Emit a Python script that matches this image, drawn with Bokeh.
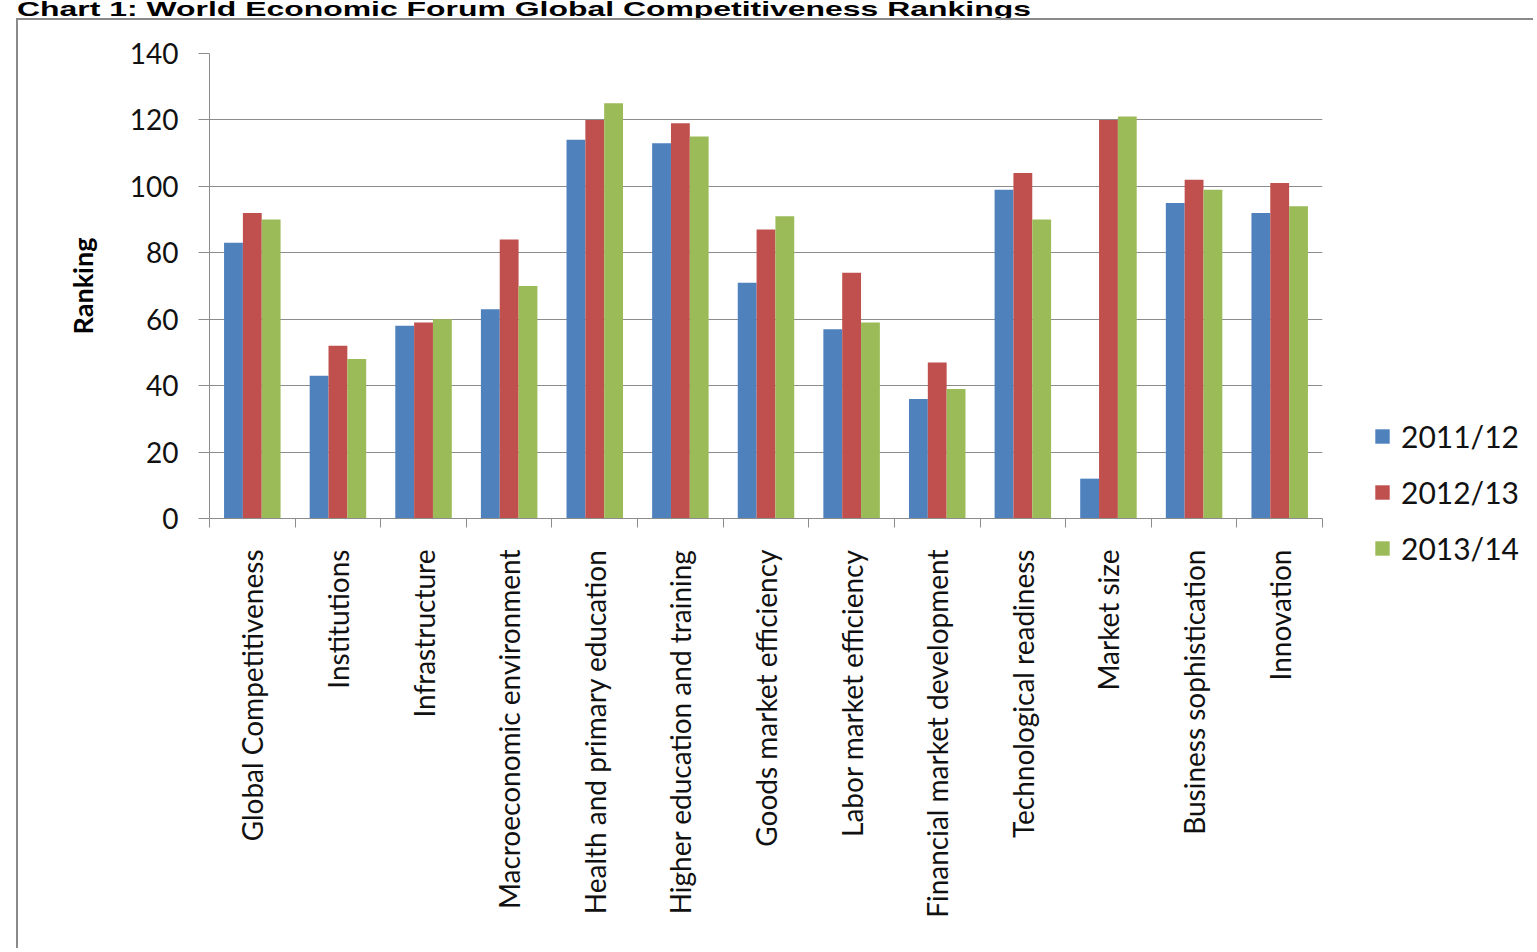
import math
from bokeh.plotting import figure
from bokeh.models import (Range1d, FixedTicker, Legend, LegendItem, Div, ColumnDataSource)
from bokeh.layouts import column, row
from bokeh.transform import dodge
from bokeh.embed import file_html
from bokeh.resources import INLINE

title_text = "Chart 1: World Economic Forum Global Competitiveness Rankings"
categories = [
    "Global Competitiveness", "Institutions", "Infrastructure",
    "Macroeconomic environment", "Health and primary education",
    "Higher education and training", "Goods market efficiency",
    "Labor market efficiency", "Financial market development",
    "Technological readiness", "Market size", "Business sophistication",
    "Innovation",
]
series_names = ["2011/12", "2012/13", "2013/14"]
v2011_12 = [83, 43, 58, 63, 114, 113, 71, 57, 36, 99, 12, 95, 92]
v2012_13 = [92, 52, 59, 84, 120, 119, 87, 74, 47, 104, 120, 102, 101]
v2013_14 = [90, 48, 60, 70, 125, 115, 91, 59, 39, 90, 121, 99, 94]
y_ticks = [0, 20, 40, 60, 80, 100, 120, 140]
colors = ["#4F81BD", "#C0504D", "#9BBB59"]

n = len(categories)
centers = [i + 0.5 for i in range(n)]
boundaries = [float(i) for i in range(n + 1)]
source = ColumnDataSource(dict(x=centers, s0=v2011_12, s1=v2012_13, s2=v2013_14))
cols = ["s0", "s1", "s2"]

p = figure(width=1312, height=930,
           x_range=Range1d(0, n), y_range=Range1d(y_ticks[0], y_ticks[-1]),
           output_backend="svg", toolbar_location=None,
           min_border_left=191, min_border_right=8,
           min_border_top=33, min_border_bottom=432)
p.outline_line_color = None
p.background_fill_color = "white"
p.border_fill_color = "white"

bar_w = 0.22
for k, (col, c) in enumerate(zip(cols, colors)):
    p.vbar(x=dodge("x", (k - 1) * bar_w, range=p.x_range), top=col, bottom=0,
           width=bar_w, source=source, fill_color=c, line_color=None)

# grid
p.xgrid.visible = False
p.ygrid.ticker = FixedTicker(ticks=y_ticks)
p.ygrid.grid_line_color = "#8c8c8c"
p.ygrid.grid_line_width = 1

# y axis
ya = p.yaxis[0]
ya.ticker = FixedTicker(ticks=y_ticks)
ya.axis_line_color = "#8c8c8c"
ya.major_tick_line_color = "#8c8c8c"
ya.major_tick_out = 11
ya.major_tick_in = 0
ya.minor_tick_line_color = None
ya.major_label_text_font = "Lato"
ya.major_label_text_font_size = "28px"
ya.major_label_text_color = "#111111"
ya.major_label_standoff = 20
ya.axis_label = "Ranking"
ya.axis_label_text_font = "Lato"
ya.axis_label_text_font_style = "bold"
ya.axis_label_text_font_size = "27px"
ya.axis_label_text_color = "#000000"
ya.axis_label_standoff = 28

# x axis
xa = p.xaxis[0]
xa.ticker = FixedTicker(ticks=centers, minor_ticks=boundaries)
xa.major_label_overrides = {c: name for c, name in zip(centers, categories)}
xa.axis_line_color = "#8c8c8c"
xa.major_tick_out = 0
xa.major_tick_in = 0
xa.major_tick_line_color = None
xa.minor_tick_line_color = "#8c8c8c"
xa.minor_tick_out = 9
xa.minor_tick_in = 0
xa.major_label_orientation = math.pi / 2
xa.major_label_text_font = "Lato"
xa.major_label_text_font_size = "28px"
xa.major_label_text_color = "#111111"
xa.major_label_standoff = 22

p.margin = (0, 0, 0, 16)
p.styles = {"border-left": "2px solid #8a8a8a", "border-top": "2px solid #8a8a8a"}

# legend panel (separate figure to the right of the plot area)
lg = figure(width=205, height=930, x_range=Range1d(-10, -9), y_range=Range1d(-10, -9),
            output_backend="svg", toolbar_location=None,
            x_axis_location=None, y_axis_location=None,
            min_border_left=0, min_border_right=0, min_border_top=0, min_border_bottom=0)
if "frame_align" in lg.properties():
    lg.frame_align = False
    p.frame_align = False
lg.grid.visible = False
lg.outline_line_color = None
lg.background_fill_color = "white"
lg.border_fill_color = "white"
lg.styles = {"border-top": "2px solid #8a8a8a"}
key_renderers = [lg.vbar(x="x", top=col, width=bar_w, source=source,
                         fill_color=c, line_color=None)
                 for col, c in zip(cols, colors)]

legend = Legend(
    items=[LegendItem(label=s, renderers=[r]) for s, r in zip(series_names, key_renderers)],
    location=(45, 384), orientation="vertical",
    glyph_width=18, glyph_height=18, label_standoff=10, spacing=20,
    padding=0, margin=0, border_line_color=None, background_fill_alpha=0,
    label_text_font="Lato", label_text_font_size="30px", label_text_color="#111111",
)
lg.add_layout(legend)

title_div = Div(
    text=('<div style="font-family:\'Liberation Sans\',Arial,sans-serif;font-weight:bold;'
          'font-size:21px;line-height:21px;white-space:nowrap;margin-top:-2px;color:#000;'
          'transform:scaleX(1.52);transform-origin:0 0;">'
          + title_text + '</div>'),
    width=1500, height=18, margin=(0, 0, 0, 17),
)

layout = column(title_div, row(p, lg, spacing=0), spacing=0)
open("out.html", "w").write(file_html(layout, INLINE))
